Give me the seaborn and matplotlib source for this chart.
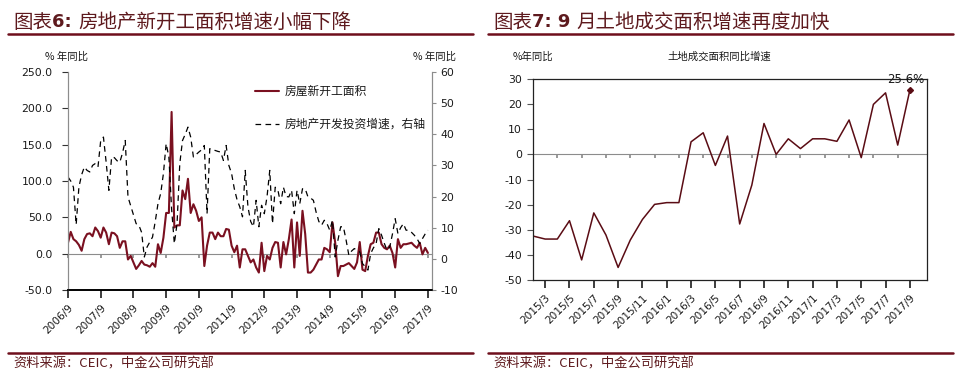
import numpy as np
import pandas as pd
import matplotlib
matplotlib.use("Agg")
import matplotlib.pyplot as plt
import seaborn as sns
from matplotlib.lines import Line2D

sns.set_theme(style="white")
plt.rcParams["font.family"] = ["DejaVu Sans", "Noto Sans CJK SC"]
CJK = ["Noto Sans CJK SC", "DejaVu Sans"]

# ---------------- data: left chart (monthly, 2006/9 - 2017/9) ----------------
left_months = pd.date_range("2006-09-01", "2017-09-01", freq="MS")
new_start_yoy = [15, 30, 20, 17, 12, 4, 20, 27, 28, 24, 36, 31, 22, 36, 29, 13, 29, 28, 24, 8,
                 17, 17, -8, -3, -12, -21, -16, -10, -15, -16, -18, -13, -18, 13, 1, 22, 56, 56, 195, 36,
                 39, 39, 87, 75, 103, 56, 68, 59, 45, 50, -17, 11, 29, 29, 20, 29, 24, 24, 34, 33,
                 11, 2, 11, -19, 6, 6, -3, -12, -8, -19, -26, 15, -24, -3, -8, 8, 16, 15, -19, 16,
                 -1, 20, 47, -19, 43, -3, 59, 27, -26, -26, -22, -15, -8, -8, 8, 6, 2, 43, 15, -31,
                 -17, -17, -15, -13, -17, -21, -12, 16, -22, -24, -3, 13, 15, 29, 29, 13, 8, 6, 11, 1,
                 -19, 20, 8, 13, 13, 14, 15, 11, 8, 15, -1, 8, 1]
invest_yoy = [26.3, 25, 23, 11, 23, 27, 29.5, 28.4, 27.9, 30, 30.6, 29.5, 38, 39.1, 31, 22, 32.7, 32.5, 31.5, 31,
              34, 38, 19.9, 17, 14, 11.3, 10.8, 8.5, 0.6, 3.8, 5.4, 7, 12, 17.7, 21, 27.4, 37, 32.7, 16, 4.9,
              11.3, 30.6, 38, 40, 42.3, 39.1, 32.7, 33.5, 34.3, 35, 36.4, 14.5, 35.4, 35, 34.8, 34.5, 34.3, 31.6, 36.4, 30,
              27.4, 22.5, 19, 16.7, 13.5, 28.4, 16.7, 12, 10.3, 18.8, 10.3, 17.2, 14.5, 20, 28.4, 11.3, 23, 22, 17.7, 23,
              20, 19.9, 22, 14.5, 22, 17.7, 22.5, 22.5, 19.9, 19.5, 18.8, 15, 12, 10.8, 12.4, 11.3, 9.2, 12.4, 0.6, 6,
              10.3, 10.3, 6, 1.2, 2.5, 3.3, 2.8, 2.2, -1.5, -2.5, -3.6, 1.7, 3.5, 4.9, 9.7, 7.6, 5, 2.8, 3.8, 8,
              12.9, 8.1, 10, 11.3, 9.2, 9.2, 8.5, 7.6, 6.5, 4.9, 6.5, 8, 9.2]
left_series_names = ["房屋新开工面积", "房地产开发投资增速，右轴"]
left_yticks = [-50, 0, 50, 100, 150, 200, 250]
left_rticks = [-10, 0, 10, 20, 30, 40, 50, 60]

# ---------------- data: right chart (monthly, 2015/2 - 2017/9) ----------------
right_months = pd.date_range("2015-02-01", "2017-09-01", freq="MS")
land_yoy = [-32.5, -33.7, -33.7, -26.4, -42.0, -23.3, -32.1, -45.0, -34.1, -25.9, -19.9, -19.2, -19.2, 5.0, 8.6, -4.4,
            7.3, -27.7, -12.2, 12.3, 0.0, 6.2, 2.3, 6.2, 6.2, 5.2, 13.7, -1.3, 19.9, 24.5, 3.7, 25.6]
right_yticks = [-50, -40, -30, -20, -10, 0, 10, 20, 30]

df_left = pd.DataFrame({"i": np.arange(len(left_months)), "new": new_start_yoy, "inv": invest_yoy})
df_right = pd.DataFrame({"i": np.arange(len(right_months)), "land": land_yoy})

MAROON = "#6e0f1c"
TITLE_C = "#5e1a1e"
TXT = "#1a1a1a"

fig = plt.figure(figsize=(9.63, 3.86), dpi=100)

# ---------------- left chart ----------------
ax1 = fig.add_axes([0.0706, 0.2487, 0.378, 0.5648])
ax1r = ax1.twinx()
sns.lineplot(data=df_left, x="i", y="new", ax=ax1, color="#7a1020", lw=1.5, label=left_series_names[0], legend=False)
sns.lineplot(data=df_left, x="i", y="inv", ax=ax1r, color="black", lw=0.9, label=left_series_names[1], legend=False)
ax1r.lines[0].set_linestyle((0, (4.5, 3.5)))
n = len(left_months)
ax1.set_xlim(0, n - 1 + 1.5)
ax1.set_ylim(left_yticks[0], left_yticks[-1])
ax1r.set_ylim(left_rticks[0], left_rticks[-1])
ax1.set_yticks(left_yticks)
ax1.set_yticklabels([f"{v:.1f}" for v in left_yticks])
ax1r.set_yticks(left_rticks)
ax1r.set_yticklabels([str(v) for v in left_rticks])
sep_idx = [i for i, d in enumerate(left_months) if d.month == 9]
ax1.set_xticks(sep_idx)
ax1.set_xticklabels([f"{left_months[i].year}/{left_months[i].month}" for i in sep_idx],
                    rotation=45, ha="right", rotation_mode="anchor")
for a in (ax1, ax1r):
    a.set_xlabel("")
    a.set_ylabel("")
    a.spines["top"].set_visible(False)
    for s in ("left", "right"):
        a.spines[s].set_color("#8c8c8c")
        a.spines[s].set_linewidth(0.8)
    a.spines["bottom"].set_color("black")
    a.spines["bottom"].set_linewidth(1.2)
ax1.tick_params(axis="y", left=True, length=4, width=0.8, labelsize=7.8, pad=7,
                colors="#333333", labelcolor=TXT)
ax1.tick_params(axis="x", bottom=False, labelsize=7.6, pad=3, labelcolor=TXT)
ax1r.tick_params(axis="y", right=True, length=3, width=0.8, labelsize=7.8, pad=3,
                 colors="#8c8c8c", labelcolor=TXT)
# zero line with small ticks
z1 = ax1.twiny()
z1.set_xlim(ax1.get_xlim())
for s in ("top", "left", "right"):
    z1.spines[s].set_visible(False)
z1.spines["bottom"].set_position(("data", 0))
z1.spines["bottom"].set_color("#8c8c8c")
z1.spines["bottom"].set_linewidth(0.8)
z1.xaxis.set_ticks_position("bottom")
z1.set_xticks(sep_idx)
z1.set_xticklabels([])
z1.tick_params(axis="x", bottom=True, top=False, length=3, color="#8c8c8c", direction="out")
z1.set_zorder(0)
ax1.set_zorder(1); ax1.patch.set_visible(False)
ax1r.set_zorder(2); ax1r.patch.set_visible(False)
h = [ax1.lines[0], ax1r.lines[0]]
leg = ax1r.legend(h, left_series_names, loc="upper left", bbox_to_anchor=(0.485, 0.99), frameon=False,
                  handlelength=2.0, handletextpad=0.5, labelspacing=1.7,
                  prop={"family": CJK, "size": 8.5})
for t in leg.get_texts():
    t.set_color(TXT)

fig.text(45 / 963, 1 - 57 / 386, "% 年同比", family=CJK, fontsize=7.5, color=TXT, va="center")
fig.text(413 / 963, 1 - 57 / 386, "% 年同比", family=CJK, fontsize=7.5, color=TXT, va="center")

# ---------------- right chart ----------------
ax2 = fig.add_axes([0.5535, 0.2746, 0.409, 0.5207])
sns.lineplot(data=df_right, x="i", y="land", ax=ax2, color="#5a0c14", lw=1.1, legend=False)
m = len(right_months)
ax2.set_xlim(0, m - 1 + 1.4)
ax2.set_ylim(right_yticks[0], right_yticks[-1])
ax2.set_yticks(right_yticks)
ax2.set_yticklabels([str(v) for v in right_yticks])
lab_idx = list(range(1, m, 2))
ax2.set_xticks(lab_idx)
ax2.set_xticklabels([f"{right_months[i].year}/{right_months[i].month}" for i in lab_idx],
                    rotation=45, ha="right", rotation_mode="anchor")
ax2.set_xlabel("")
ax2.set_ylabel("")
for s in ax2.spines.values():
    s.set_color("#222222")
    s.set_linewidth(0.9)
ax2.tick_params(axis="y", left=True, length=4, width=0.8, color="#555555", labelsize=7.8, pad=4,
                labelcolor=TXT)
ax2.tick_params(axis="x", bottom=False, labelsize=7.6, pad=3, labelcolor=TXT)
z2 = ax2.twiny()
z2.set_xlim(ax2.get_xlim())
for s in ("top", "left", "right"):
    z2.spines[s].set_visible(False)
z2.spines["bottom"].set_position(("data", 0))
z2.spines["bottom"].set_color("#8c8c8c")
z2.spines["bottom"].set_linewidth(0.8)
z2.xaxis.set_ticks_position("bottom")
z2.set_xticks(list(range(2, m, 2)))
z2.set_xticklabels([])
z2.tick_params(axis="x", bottom=True, top=False, length=3, color="#8c8c8c", direction="out")
z2.set_zorder(0)
ax2.set_zorder(1); ax2.patch.set_visible(False)
last_x, last_y = df_right["i"].iloc[-1], df_right["land"].iloc[-1]
ax2.plot([last_x], [last_y], marker="D", ms=3, color="#5a0c14")
ax2.annotate(f"{last_y:.1f}%", (last_x, last_y), xytext=(-3, 3), textcoords="offset points",
             ha="center", va="bottom", fontsize=8.5, color=TXT)
fig.text(513 / 963, 1 - 57 / 386, "%年同比", family=CJK, fontsize=7.5, color=TXT, va="center")
fig.text(667 / 963, 1 - 57 / 386, "土地成交面积同比增速", family=CJK, fontsize=7.5, color=TXT, va="center")

# ---------------- titles, rules, sources ----------------
def title(x0, parts):
    fig.canvas.draw()
    r = fig.canvas.get_renderer()
    x = x0
    for txt, kw in parts:
        t = fig.text(x, 1 - 22 / 386, txt, va="center", color=TITLE_C, **kw)
        bb = t.get_window_extent(renderer=r)
        x = (bb.x1) / fig.bbox.width

title(13 / 963, [("图表", dict(family=CJK, fontsize=14)),
                 ("6: ", dict(family="DejaVu Sans", fontsize=13, fontweight="bold")),
                 ("房地产新开工面积增速小幅下降", dict(family=CJK, fontsize=14))])
title(493 / 963, [("图表", dict(family=CJK, fontsize=14)),
                  ("7: 9 ", dict(family="DejaVu Sans", fontsize=13, fontweight="bold")),
                  ("月土地成交面积增速再度加快", dict(family=CJK, fontsize=14))])

for (xa, xb) in ((8, 473), (488, 953)):
    fig.add_artist(Line2D([xa / 963, xb / 963], [1 - 34 / 386] * 2, color=MAROON, lw=1.8,
                          transform=fig.transFigure))
    fig.add_artist(Line2D([xa / 963, xb / 963], [1 - 353 / 386] * 2, color=MAROON, lw=1.8,
                          transform=fig.transFigure))
fig.text(13 / 963, 1 - 364 / 386, "资料来源：CEIC，中金公司研究部", family=CJK, fontsize=9.5,
         style="italic", color=TITLE_C, va="center")
fig.text(493 / 963, 1 - 364 / 386, "资料来源：CEIC，中金公司研究部", family=CJK, fontsize=9.5,
         style="italic", color=TITLE_C, va="center")

fig.savefig("out.png", dpi=100)
